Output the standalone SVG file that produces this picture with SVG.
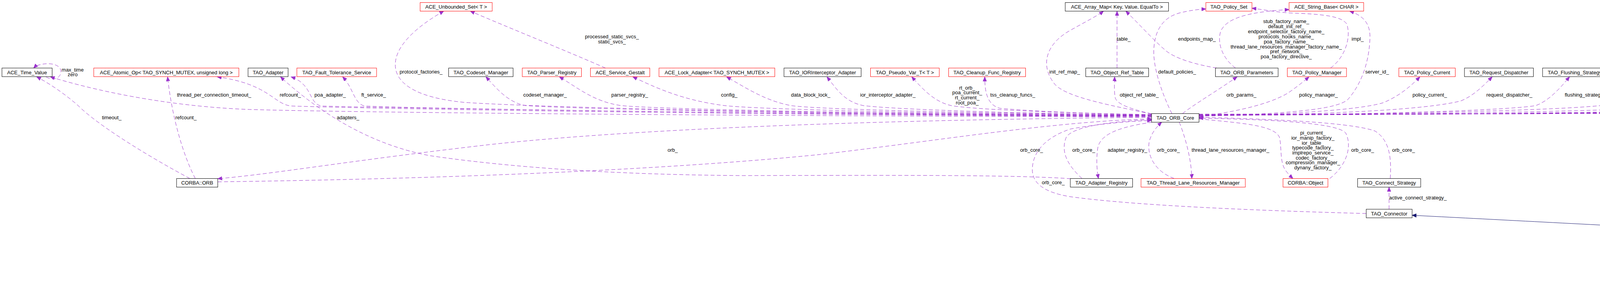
<svg xmlns="http://www.w3.org/2000/svg" width="7509" height="739" viewBox="0 0 7509 739">
<style>
text{font-family:"Liberation Sans",Arial,Helvetica,sans-serif;font-size:13px;fill:#000}
.t{text-anchor:middle}
.m{text-anchor:middle}
.b rect{fill:#fff;stroke:#000;stroke-width:1}
.r rect{fill:#fff;stroke:#f00;stroke-width:1}
.g rect{fill:#bfbfbf;stroke:#000;stroke-width:1}
.e{fill:none;stroke:#9a32cd;stroke-width:1;stroke-dasharray:10,6;marker-end:url(#ap)}
.i{fill:none;stroke:#191970;stroke-width:1;marker-end:url(#an)}
</style>
<defs>
<marker id="ap" markerUnits="userSpaceOnUse" markerWidth="12" markerHeight="10" refX="11" refY="5" orient="auto"><path d="M0,0.5 L11,5 L0,9.5 z" fill="#9a32cd" stroke="#9a32cd"/></marker>
<marker id="an" markerUnits="userSpaceOnUse" markerWidth="12" markerHeight="10" refX="11" refY="5" orient="auto"><path d="M0,0.5 L11,5 L0,9.5 z" fill="#191970" stroke="#191970"/></marker>
</defs>
<rect x="0" y="0" width="7509" height="739" fill="#fff"/>
<g id="connectors">
<path class="e" d="M2948,299 C2100,297 1000,290 640,280 C420,272 230,228 129,196.5"/>
<path class="e" d="M2948,298 C2100,295 1000,280 745,271 C700,266 690,215 556,196.5"/>
<path class="e" d="M2948,297 C2200,294 1000,277 822,271 C790,264 800,215 745,196.5"/>
<path class="e" d="M2948,297 C2200,294 1100,279 932,271 C905,262 905,225 877,196.5"/>
<path class="e" d="M2948,296 C2200,293 1400,276 1191,262 C1060,250 1010,210 1012,163 C1014,110 1080,60 1136,28.5"/>
<path class="e" d="M2948,296 C2300,293 1500,281 1345,270 C1300,262 1270,225 1244,196.5"/>
<path class="e" d="M2948,295 C2400,292 1700,281 1590,270 C1520,260 1480,225 1432,196.5"/>
<path class="e" d="M2948,295 C2500,292 1950,281 1855,270 C1750,257 1680,225 1620,196.5"/>
<path class="e" d="M2948,294 C2600,291 2100,281 2025,270 C1960,258 1910,225 1860,196.5"/>
<path class="e" d="M2948,294 C2650,291 2300,281 2210,270 C2160,260 2140,225 2117,196.5"/>
<path class="e" d="M2948,293 C2750,290 2500,281 2435,270 C2390,260 2360,225 2334,196.5"/>
<path class="e" d="M2948,293 C2800,291 2650,285 2560,277 C2525,268 2521,230 2521,196.5"/>
<path class="e" d="M2948,292 C2850,270 2730,250 2700,215 C2660,165 2680,110 2741,77 C2780,55 2810,40 2825,28.5"/>
<path class="e" d="M2948,291 C2900,280 2860,268 2855,250 C2852,235 2853,215 2853.5,196.5"/>
<path class="e" d="M3000,290.5 C2975,240 2950,170 2954,122 C2957,80 2975,45 3020,33 C3045,27 3065,24 3087,23"/>
<path class="e" d="M3027,290.5 C3060,265 3110,236 3167,196.5"/>
<path class="e" d="M3069.5,298 C3180,284 3260,262 3300,236 C3320,222 3338,208 3351,196.5"/>
<path class="e" d="M3069.5,297 C3300,291 3420,280 3450,255 C3490,210 3505,150 3507,100 C3509,60 3490,40 3455,28.5"/>
<path class="e" d="M3069.5,297 C3300,293 3480,281 3540,263 C3580,247 3610,222 3635,196.5"/>
<path class="e" d="M3069.5,296 C3400,293 3650,281 3740,258 C3770,246 3795,222 3820,196.5"/>
<path class="e" d="M3069.5,296 C3500,293 3850,283 3932,270 C3965,257 3990,230 4018,196.5"/>
<path class="e" d="M3069.5,295 C3600,292 4050,281 4128,266 C4165,252 4190,225 4214,196.5"/>
<path class="e" d="M3069.5,295 C3700,292 4280,283 4340,266 C4390,247 4425,222 4454,196.5"/>
<path class="e" d="M3069.5,295 C3800,293 4550,283 4646,270 C4680,259 4692,230 4698,196.5"/>
<path class="e" d="M3069.5,294 C3900,292 4700,283 4809,266 C4850,255 4875,228 4897,196.5"/>
<path class="e" d="M3069.5,294 C4000,292 4900,283 4985,268 C5030,256 5065,228 5099,196.5"/>
<path class="e" d="M3069.5,294 C4100,292 5100,284 5189,270 C5230,257 5260,228 5291,196.5"/>
<path class="e" d="M3069.5,293 C4200,291 5300,283 5400,266 C5440,252 5455,225 5470,196.5"/>
<path class="e" d="M3069.5,293 C4300,291 5450,283 5552,270 C5590,257 5610,230 5629,196.5"/>
<path class="e" d="M3069.5,293 C4400,291 5600,284 5702,270 C5750,259 5790,228 5815,196.5"/>
<path class="e" d="M3069.5,292 C4500,291 5800,284 5898,268 C5960,252 6000,225 6039,196.5"/>
<path class="e" d="M3069.5,292 C4600,290 6050,283 6170,270 C6210,256 6240,225 6263,196.5"/>
<path class="e" d="M2948,300 C2400,305 1700,322 1260,369 C900,410 700,445 557.5,457"/>
<path class="e" d="M557.5,465 C1300,455 1800,425 2100,395 C2400,360 2700,310 2948,304"/>
<path class="e" d="M2741,457 C2600,447 2300,448 1900,449 C1500,446 1250,420 1100,398 C950,370 820,290 718,196.5"/>
<path class="e" d="M486,456.5 C380,400 250,320 200,270 C160,235 120,210 94,196.5"/>
<path class="e" d="M500,456.5 C470,400 440,300 429,196.5"/>
<path class="e" d="M118,196.5 C135,208 156,200 156,183 C156,166 130,158 100,166 C93,168 89,171 86,174"/>
<path class="e" d="M3497.5,546 C3200,538 2900,525 2740,503 C2660,490 2640,460 2643,428 C2646,385 2680,350 2740,330 C2820,315 2900,310 2948,308"/>
<path class="e" d="M2770,456.5 C2730,420 2715,385 2730,350 C2750,322 2850,310 2948,306"/>
<path class="e" d="M2950,312.5 C2860,325 2815,345 2810,380 C2806,410 2808,435 2812,456.5"/>
<path class="e" d="M3006,456.5 C2960,440 2935,400 2942,362 C2948,340 2960,325 2974,312.5"/>
<path class="e" d="M3019,312.5 C3030,340 3050,400 3051,456.5"/>
<path class="e" d="M3069.5,304 C3180,315 3260,320 3275,350 C3282,375 3275,415 3292,437 C3298,445 3304,451 3310,456.5"/>
<path class="e" d="M3404,456.5 C3440,430 3465,380 3445,340 C3420,310 3200,305 3069.5,302"/>
<path class="e" d="M3559,456.5 C3562,410 3560,360 3520,335 C3450,310 3200,303 3069.5,300"/>
<path class="e" d="M3556,535 L3556,478.5"/>
<path class="e" d="M5105,613.5 C5095,570 5100,530 5170,520 C5400,500 5900,478 6269.5,470"/>
<path class="e" d="M5144.5,613.5 C5200,598 5280,575 5329,557"/>
<path class="e" d="M6347,456.5 C6280,440 6230,415 6200,398 C6160,370 6130,340 6113,312.5"/>
<path class="e" d="M6420.5,456.5 L6420.5,312.5"/>
<path class="e" d="M6516,456.5 C6650,430 6850,400 6980,368 C7080,345 7160,325 7215,312.5"/>
<path class="e" d="M6770,290.5 C6720,265 6640,230 6549,196.5"/>
<path class="e" d="M6827,290.5 C6900,262 6980,225 7055,196.5"/>
<path class="e" d="M6406,290.5 C6370,262 6320,225 6296,196.5"/>
<path class="e" d="M6429,290.5 C6450,262 6475,230 6496,196.5"/>
<path class="e" d="M6330,196.5 C6350,206 6376,199 6376,184 C6376,168 6350,160 6322,164 C6312,166 6305,169 6300,174"/>
<path class="e" d="M6552,196.5 C6570,206 6584,199 6584,184 C6584,168 6566,160 6550,163 C6542,165 6537,169 6533,174"/>
<path class="e" d="M1550,174 C1450,130 1300,70 1204,28.5"/>
<path class="e" d="M3115,174 C3060,165 3010,150 2985,130 C2950,100 2915,60 2882,28.5"/>
<path class="e" d="M2859.6,174 L2859.6,28.5"/>
<path class="e" d="M3163,174 C3130,150 3115,110 3125,80 C3140,45 3200,30 3300,24.5"/>
<path class="e" d="M3406,174 C3440,150 3460,100 3448,62 C3435,40 3380,36 3300,33 C3260,30 3230,24 3205,21"/>
<path class="i" d="M4244.5,174 C4330,125 4420,80 4530,50 C4700,30 5000,22 5232,17"/>
<path class="i" d="M4490,174 C4560,135 4650,95 4780,55 C4900,32 5050,24 5232,20"/>
<path class="i" d="M4726,174 C4800,130 4900,90 5000,65 C5100,45 5170,30 5232,24"/>
<path class="i" d="M4960,174 C5060,130 5130,75 5180,50 C5200,40 5220,33 5240,28.5"/>
<path class="i" d="M5138,174 C5190,130 5250,80 5290,28.5"/>
<path class="i" d="M5305.7,174 L5305.7,28.5"/>
<path class="i" d="M5468,174 C5420,130 5360,75 5319,28.5"/>
<path class="i" d="M5625,174 C5560,120 5450,60 5358,28.5"/>
<path class="i" d="M5812,174 C5720,115 5650,80 5560,62 C5500,45 5440,32 5380.5,26"/>
<path class="i" d="M6036,174 C5880,100 5700,50 5560,38 C5500,30 5440,24 5380.5,21"/>
<path class="i" d="M6967,290.5 C7080,282 7150,272 7200,252 C7250,232 7258,205 7254,195 C7245,170 7200,155 7164,138 C7100,120 7000,100 6849,87 C6500,60 6000,30 5380.5,17"/>
<path class="i" d="M6799,290.5 L6799,196.5"/>
<path class="i" d="M6466,456.5 C6540,440 6620,410 6680,380 C6720,355 6750,330 6772,312.5"/>
<path class="i" d="M5024.5,620 C4700,608 4000,570 3615,550.5"/>
<text class="m" x="186" y="183">max_time</text>
<text class="m" x="186" y="194.6">zero</text>
<text x="453" y="246.6">thread_per_connection_timeout_</text>
<text x="261" y="304.6">timeout_</text>
<text x="449" y="304.6">refcount_</text>
<text x="716" y="246.6">refcount_</text>
<text x="805" y="246.6">poa_adapter_</text>
<text x="925" y="246.6">ft_service_</text>
<text x="862" y="304.6">adapters_</text>
<text x="1023" y="187.6">protocol_factories_</text>
<text x="1339.6" y="246.6">codeset_manager_</text>
<text x="1565" y="246.6">parser_registry_</text>
<text class="m" x="1566.5" y="98">processed_static_svcs_</text>
<text class="m" x="1566.5" y="110.6">static_svcs_</text>
<text x="1845.7" y="246.6">config_</text>
<text x="1709" y="388.2">orb_</text>
<text x="2025" y="246.6">data_block_lock_</text>
<text x="2202" y="246.6">ior_interceptor_adapter_</text>
<text class="m" x="2476" y="228.7">rt_orb_</text>
<text class="m" x="2476" y="241.4">poa_current_</text>
<text class="m" x="2476" y="254.1">rt_current_</text>
<text class="m" x="2476" y="266.8">root_poa_</text>
<text x="2535" y="246.6">tss_cleanup_funcs_</text>
<text x="2686" y="187.6">init_ref_map_</text>
<text x="2858.8" y="103.6">table_</text>
<text x="2965" y="187.6">default_policies_</text>
<text x="3016" y="103.6">endpoints_map_</text>
<text x="2866.5" y="246.6">object_ref_table_</text>
<text x="2611.4" y="388.2">orb_core_</text>
<text x="2745" y="388.2">orb_core_</text>
<text x="2835.5" y="388.2">adapter_registry_</text>
<text x="2961.6" y="388.2">orb_core_</text>
<text x="3050.6" y="388.2">thread_lane_resources_manager_</text>
<text x="2667" y="471">orb_core_</text>
<text class="m" x="3292.6" y="59.3">stub_factory_name_</text>
<text class="m" x="3292.6" y="72.4">default_init_ref_</text>
<text class="m" x="3292.6" y="85.4">endpoint_selector_factory_name_</text>
<text class="m" x="3292.6" y="98.1">protocols_hooks_name_</text>
<text class="m" x="3292.6" y="110.6">poa_factory_name_</text>
<text class="m" x="3292.6" y="123.6">thread_lane_resources_manager_factory_name_</text>
<text class="m" x="3292.6" y="136">pref_network_</text>
<text class="m" x="3292.6" y="149.1">poa_factory_directive_</text>
<text x="3460" y="103.6">impl_</text>
<text x="3495" y="187.6">server_id_</text>
<text x="3139.6" y="246.6">orb_params_</text>
<text x="3325.7" y="246.6">policy_manager_</text>
<text x="3616" y="246.6">policy_current_</text>
<text class="m" x="3361" y="343.6">pi_current_</text>
<text class="m" x="3361" y="356.6">ior_manip_factory_</text>
<text class="m" x="3361" y="369.6">ior_table_</text>
<text class="m" x="3361" y="382.1">typecode_factory_</text>
<text class="m" x="3361" y="394.6">implrepo_service_</text>
<text class="m" x="3361" y="407.6">codec_factory_</text>
<text class="m" x="3361" y="420.1">compression_manager_</text>
<text class="m" x="3361" y="433.2">dynany_factory_</text>
<text x="3459" y="388.2">orb_core_</text>
<text x="3563.7" y="388.2">orb_core_</text>
<text x="3556" y="509.6">active_connect_strategy_</text>
<text x="3805" y="246.6">request_dispatcher_</text>
<text x="4005.7" y="246.6">flushing_strategy_</text>
<text x="4201.6" y="246.6">collocation_resolver_</text>
<text x="4435" y="246.6">network_priority_protocols_hooks_</text>
<text x="4695" y="246.6">protocols_hooks_</text>
<text x="4884" y="246.6">server_factory_</text>
<text x="5081" y="246.6">resource_factory_</text>
<text x="5278" y="246.6">valuetype_adapter_</text>
<text x="5463" y="246.6">stub_factory_</text>
<text x="5619" y="246.6">bidir_adapter_</text>
<text x="5801.6" y="246.6">client_factory_</text>
<text x="6015" y="246.6">endpoint_selector_factory_</text>
<text x="6249" y="246.6">tm_</text>
<text x="6380" y="187.6">thr_mgr_</text>
<text x="6588" y="187.6">reactor_</text>
<text x="6376" y="246.6">thr_mgr_</text>
<text x="6482" y="246.6">reactor_</text>
<text x="6711" y="246.6">reactor_</text>
<text x="7005" y="246.6">non_blocking_handles_</text>
<text x="6279.5" y="388.2">concurrency_strategy_</text>
<text x="6423" y="388.2">creation_strategy_</text>
<text x="7144.5" y="388.2">connect_strategy_</text>
<text x="5126.5" y="549.6">base_connector_</text>
<text x="5267.8" y="589">connect_strategy_</text>
</g>
<g id="n_unbounded_set_t" class="r"><rect x="1075.5" y="6.5" width="184.5" height="22"/><text class="t" x="1167.75" y="22.1">ACE_Unbounded_Set&lt; T &gt;</text></g>
<g id="n_array_map" class="b"><rect x="2727" y="6.5" width="264.5" height="22"/><text class="t" x="2859.25" y="22.1">ACE_Array_Map&lt; Key, Value, EqualTo &gt;</text></g>
<g id="n_policy_set" class="r"><rect x="3087" y="6.5" width="118" height="22"/><text class="t" x="3146" y="22.1">TAO_Policy_Set</text></g>
<g id="n_string_base" class="r"><rect x="3300" y="6.5" width="191" height="22"/><text class="t" x="3395.5" y="22.1">ACE_String_Base&lt; CHAR &gt;</text></g>
<g id="n_service_object" class="r"><rect x="5232" y="6.5" width="148.5" height="22"/><text class="t" x="5306.25" y="22.1">ACE_Service_Object</text></g>
<g id="n_time_value" class="b"><rect x="5" y="174" width="128.5" height="22"/><text class="t" x="69.25" y="189.6">ACE_Time_Value</text></g>
<g id="n_atomic_op" class="r"><rect x="240" y="174" width="371.5" height="22"/><text class="t" x="425.75" y="189.6">ACE_Atomic_Op&lt; TAO_SYNCH_MUTEX, unsigned long &gt;</text></g>
<g id="n_adapter" class="b"><rect x="635" y="174" width="102.5" height="22"/><text class="t" x="686.25" y="189.6">TAO_Adapter</text></g>
<g id="n_ft_service" class="r"><rect x="760" y="174" width="204" height="22"/><text class="t" x="862" y="189.6">TAO_Fault_Tolerance_Service</text></g>
<g id="n_codeset_manager" class="b"><rect x="1148.5" y="174" width="165" height="22"/><text class="t" x="1231" y="189.6">TAO_Codeset_Manager</text></g>
<g id="n_parser_registry" class="r"><rect x="1337" y="174" width="151.5" height="22"/><text class="t" x="1412.75" y="189.6">TAO_Parser_Registry</text></g>
<g id="n_service_gestalt" class="r"><rect x="1511.5" y="174" width="152" height="22"/><text class="t" x="1587.5" y="189.6">ACE_Service_Gestalt</text></g>
<g id="n_lock_adapter" class="r"><rect x="1687" y="174" width="296.5" height="22"/><text class="t" x="1835.25" y="189.6">ACE_Lock_Adapter&lt; TAO_SYNCH_MUTEX &gt;</text></g>
<g id="n_iorinterceptor" class="b"><rect x="2007" y="174" width="197.5" height="22"/><text class="t" x="2105.75" y="189.6">TAO_IORInterceptor_Adapter</text></g>
<g id="n_pseudo_var" class="r"><rect x="2228.5" y="174" width="176" height="22"/><text class="t" x="2316.5" y="189.6">TAO_Pseudo_Var_T&lt; T &gt;</text></g>
<g id="n_cleanup" class="r"><rect x="2428.5" y="174" width="197" height="22"/><text class="t" x="2527" y="189.6">TAO_Cleanup_Func_Registry</text></g>
<g id="n_object_ref_table" class="b"><rect x="2779.5" y="174" width="161" height="22"/><text class="t" x="2860" y="189.6">TAO_Object_Ref_Table</text></g>
<g id="n_orb_parameters" class="b"><rect x="3111.5" y="174" width="160.5" height="22"/><text class="t" x="3191.75" y="189.6">TAO_ORB_Parameters</text></g>
<g id="n_policy_manager" class="r"><rect x="3295.5" y="174" width="151.5" height="22"/><text class="t" x="3371.25" y="189.6">TAO_Policy_Manager</text></g>
<g id="n_policy_current" class="r"><rect x="3581" y="174" width="144.5" height="22"/><text class="t" x="3653.25" y="189.6">TAO_Policy_Current</text></g>
<g id="n_request_dispatcher" class="b"><rect x="3749" y="174" width="176.5" height="22"/><text class="t" x="3837.25" y="189.6">TAO_Request_Dispatcher</text></g>
<g id="n_flushing_strategy" class="b"><rect x="3949" y="174" width="164.5" height="22"/><text class="t" x="4031.25" y="189.6">TAO_Flushing_Strategy</text></g>
<g id="n_collocation_resolver" class="b"><rect x="4136" y="174" width="181.5" height="22"/><text class="t" x="4226.75" y="189.6">TAO_Collocation_Resolver</text></g>
<g id="n_network_priority" class="b"><rect x="4341" y="174" width="263.5" height="22"/><text class="t" x="4472.75" y="189.6">TAO_Network_Priority_Protocols_Hooks</text></g>
<g id="n_protocols_hooks" class="b"><rect x="4627" y="174" width="157.5" height="22"/><text class="t" x="4705.75" y="189.6">TAO_Protocols_Hooks</text></g>
<g id="n_server_strategy" class="r"><rect x="4808" y="174" width="204.5" height="22"/><text class="t" x="4910.25" y="189.6">TAO_Server_Strategy_Factory</text></g>
<g id="n_resource_factory" class="b"><rect x="5035.5" y="174" width="164" height="22"/><text class="t" x="5117.5" y="189.6">TAO_Resource_Factory</text></g>
<g id="n_valuetype_adapter" class="b"><rect x="5221" y="174" width="168" height="22"/><text class="t" x="5305" y="189.6">TAO_Valuetype_Adapter</text></g>
<g id="n_stub_factory" class="b"><rect x="5413.5" y="174" width="135" height="22"/><text class="t" x="5481" y="189.6">TAO_Stub_Factory</text></g>
<g id="n_bidir_adapter" class="b"><rect x="5571" y="174" width="138.5" height="22"/><text class="t" x="5640.25" y="189.6">TAO_BiDir_Adapter</text></g>
<g id="n_client_strategy" class="b"><rect x="5733.5" y="174" width="198.5" height="22"/><text class="t" x="5832.75" y="189.6">TAO_Client_Strategy_Factory</text></g>
<g id="n_endpoint_selector" class="b"><rect x="5955.5" y="174" width="216.5" height="22"/><text class="t" x="6063.75" y="189.6">TAO_Endpoint_Selector_Factory</text></g>
<g id="n_thread_manager" class="r"><rect x="6195.5" y="174" width="160" height="22"/><text class="t" x="6275.5" y="189.6">ACE_Thread_Manager</text></g>
<g id="n_reactor" class="r"><rect x="6459" y="174" width="104.5" height="22"/><text class="t" x="6511.25" y="189.6">ACE_Reactor</text></g>
<g id="n_connector_base" class="b"><rect x="6660.5" y="174" width="279" height="22"/><text class="t" x="6800" y="189.6">ACE_Connector_Base&lt; SVC_HANDLER &gt;</text></g>
<g id="n_unbounded_set_handle" class="r"><rect x="6961" y="174" width="266.5" height="22"/><text class="t" x="7094.25" y="189.6">ACE_Unbounded_Set&lt; ACE_HANDLE &gt;</text></g>
<g id="n_orb_core" class="b"><rect x="2948" y="290.5" width="121.5" height="22"/><text class="t" x="3008.75" y="306.1">TAO_ORB_Core</text></g>
<g id="n_concurrency_strategy" class="b"><rect x="5941" y="290.5" width="312.5" height="22"/><text class="t" x="6097.25" y="306.1">ACE_Concurrency_Strategy&lt; SVC_HANDLER &gt;</text></g>
<g id="n_creation_strategy" class="b"><rect x="6277.5" y="290.5" width="287" height="22"/><text class="t" x="6421" y="306.1">ACE_Creation_Strategy&lt; SVC_HANDLER &gt;</text></g>
<g id="n_ace_connector" class="b"><rect x="6587" y="290.5" width="425.5" height="22"/><text class="t" x="6799.75" y="306.1">ACE_Connector&lt; SVC_HANDLER, ACE_PEER_CONNECTOR_2 &gt;</text></g>
<g id="n_connect_strategy_peer" class="b"><rect x="7035.5" y="290.5" width="470" height="22"/><text class="t" x="7270.5" y="306.1">ACE_Connect_Strategy&lt; SVC_HANDLER, ACE_PEER_CONNECTOR_2 &gt;</text></g>
<g id="n_corba_orb" class="b"><rect x="452" y="456.5" width="105.5" height="22"/><text class="t" x="504.75" y="472.1">CORBA::ORB</text></g>
<g id="n_adapter_registry" class="b"><rect x="2740" y="456.5" width="159.5" height="22"/><text class="t" x="2819.75" y="472.1">TAO_Adapter_Registry</text></g>
<g id="n_tlrm" class="r"><rect x="2921" y="456.5" width="267" height="22"/><text class="t" x="3054.5" y="472.1">TAO_Thread_Lane_Resources_Manager</text></g>
<g id="n_corba_object" class="r"><rect x="3284.5" y="456.5" width="115" height="22"/><text class="t" x="3342" y="472.1">CORBA::Object</text></g>
<g id="n_tao_connect_strategy" class="b"><rect x="3475.5" y="456.5" width="161.5" height="22"/><text class="t" x="3556.25" y="472.1">TAO_Connect_Strategy</text></g>
<g id="n_strategy_connector" class="b"><rect x="6269.5" y="456.5" width="302" height="22"/><text class="t" x="6420.5" y="472.1">ACE_Strategy_Connector&lt; SVC_HANDLER, &gt;</text></g>
<g id="n_tao_connector" class="b"><rect x="3497.5" y="535" width="117.5" height="22"/><text class="t" x="3556.25" y="550.6">TAO_Connector</text></g>
<g id="n_connect_strategy" class="b"><rect x="5233" y="535" width="290" height="22"/><text class="t" x="5378" y="550.6">ACE_Connect_Strategy&lt; SVC_HANDLER, &gt;</text></g>
<g id="n_sciop_connector" class="g"><rect x="5024.5" y="613.5" width="167" height="23"/><text class="t" x="5108" y="629.6">TAO_SCIOP_Connector</text></g>
</svg>
